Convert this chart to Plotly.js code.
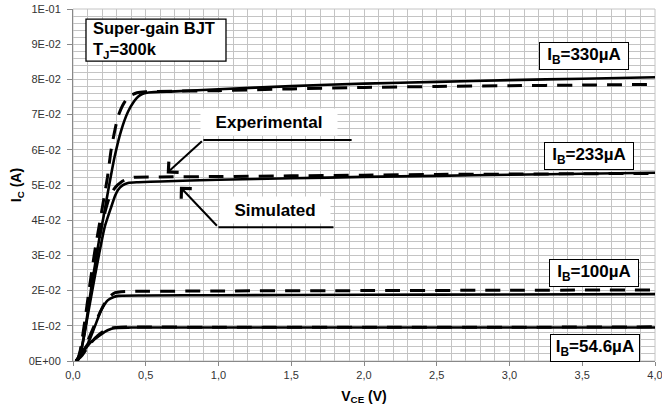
<!DOCTYPE html>
<html><head><meta charset="utf-8">
<script src="https://cdn.plot.ly/plotly-3.0.1.min.js"></script>
<style>html,body{margin:0;padding:0;background:#fff}#chart{width:662px;height:416px}</style>
</head><body><div id="chart"></div>
<script>
// ---- Data ----
const vce330Sim = [0.03,0.05,0.08,0.105,0.126,0.15,0.183,0.21,0.24,0.286,0.332,0.378,0.42,0.447,0.48,0.52,0.7,1.0,1.5,2.0,2.5,3.0,3.5,4.0];
const ic330Sim  = [0,0.002,0.008,0.015,0.021,0.027,0.0353,0.041,0.048,0.058,0.0656,0.0708,0.0738,0.0751,0.0759,0.0763,0.0766,0.0772,0.0781,0.0788,0.0793,0.0798,0.0802,0.0806];
const vce330Exp = [0.03,0.05,0.08,0.11,0.149,0.195,0.236,0.264,0.309,0.34,0.367,0.4,0.44,0.5,1.0,1.5,2.0,2.5,3.0,3.5,4.0];
const ic330Exp  = [0,0.003,0.011,0.02,0.031,0.042,0.052,0.0605,0.0694,0.0725,0.0743,0.0755,0.0762,0.0765,0.0768,0.0773,0.0777,0.078,0.0782,0.0784,0.0786];

const vce233Sim = [0.03,0.05,0.08,0.11,0.15,0.18,0.218,0.263,0.29,0.309,0.34,0.378,0.45,0.6,1.0,1.5,2.0,2.5,3.0,3.5,4.0];
const ic233Sim  = [0,0.002,0.008,0.015,0.024,0.0305,0.0381,0.0438,0.047,0.0486,0.0499,0.0506,0.0508,0.051,0.0515,0.0519,0.0523,0.0526,0.0529,0.0532,0.0535];
const vce233Exp = [0.03,0.05,0.08,0.11,0.15,0.2,0.25,0.29,0.33,0.37,0.42,0.6,1.0,1.5,2.0,2.5,3.0,3.5,4.0];
const ic233Exp  = [0,0.0025,0.009,0.017,0.027,0.039,0.0465,0.0493,0.0508,0.0517,0.0522,0.0523,0.0524,0.0526,0.0528,0.053,0.0531,0.0532,0.0533];

const vce100Sim = [0.02,0.034,0.07,0.103,0.149,0.195,0.24,0.28,0.31,0.5,1.0,2.0,3.0,4.0];
const ic100Sim  = [0,0.0009,0.003,0.005,0.0097,0.0145,0.0173,0.0182,0.0185,0.0186,0.0187,0.0188,0.0189,0.019];
const vce100Exp = [0.02,0.06,0.12,0.172,0.218,0.26,0.29,0.33,0.5,1.0,2.0,3.0,4.0];
const ic100Exp  = [0,0.002,0.0075,0.0126,0.0164,0.0186,0.0194,0.0197,0.0198,0.0199,0.02,0.0201,0.0202];

const vce55Sim = [0.02,0.057,0.09,0.126,0.172,0.218,0.26,0.29,0.4,1.0,2.0,3.0,4.0];
const ic55Sim  = [0,0.0017,0.0037,0.0055,0.0069,0.0083,0.0091,0.0094,0.0095,0.0095,0.0095,0.0095,0.0095];
const vce55Exp = [0.02,0.06,0.12,0.17,0.22,0.27,0.33,1.0,2.0,3.0,4.0];
const ic55Exp  = [0,0.0015,0.005,0.0072,0.0087,0.0094,0.0096,0.0096,0.0096,0.0096,0.0097];

const xTickVals = [0,0.5,1,1.5,2,2.5,3,3.5,4];
const yTickVals = [0,0.01,0.02,0.03,0.04,0.05,0.06,0.07,0.08,0.09,0.1];
const yTickText = ["0E+00","1E-02","2E-02","3E-02","4E-02","5E-02","6E-02","7E-02","8E-02","9E-02","1E-01"];
const curveLabels = ["I<sub>B</sub>=330µA","I<sub>B</sub>=233µA","I<sub>B</sub>=100µA","I<sub>B</sub>=54.6µA"];
const infoText = "<b>Super-gain BJT<br>T<sub>J</sub>=300k</b>";

// ---- Styles ----
const FONT = "Liberation Sans, Arial, Helvetica, sans-serif";
const GRID = "#c4c4c4";
const solid = {color:"#000", width:2.6, shape:"spline", smoothing:0.6};
const dashed = {color:"#000", width:3, dash:"15px,10px", shape:"spline", smoothing:0.6};

const series = [
  [vce330Sim, ic330Sim, solid], [vce330Exp, ic330Exp, dashed],
  [vce233Sim, ic233Sim, solid], [vce233Exp, ic233Exp, dashed],
  [vce100Sim, ic100Sim, solid], [vce100Exp, ic100Exp, dashed],
  [vce55Sim, ic55Sim, solid], [vce55Exp, ic55Exp, dashed]
];
const traces = series.map(s => ({x:s[0], y:s[1], type:"scatter", mode:"lines", line:s[2], hoverinfo:"skip"}));

const labelPos = [[3.512,0.0866],[3.546,0.0582],[3.581,0.0251],[3.589,0.0036]];
const annotations = curveLabels.map((t,i) => ({
  x:labelPos[i][0], y:labelPos[i][1], xref:"x", yref:"y", text:"<b>"+t+"</b>", showarrow:false,
  font:{family:FONT, size:17, color:"#000"}, bgcolor:"#fff", bordercolor:"#000", borderwidth:1,
  borderpad:2, width:84, height:22, xanchor:"center", yanchor:"middle"
}));
annotations.push(
  {x:0.1216, y:0.09115, xref:"x", yref:"y", text:infoText, showarrow:false, xanchor:"left", yanchor:"middle", align:"left",
   font:{family:FONT, size:16.5, color:"#000"}},
  {x:1.347, y:0.0680, xref:"x", yref:"y", text:"<b>Experimental</b>", showarrow:false, bgcolor:"#fff", width:134, height:24,
   font:{family:FONT, size:17, color:"#000"}},
  {x:1.388, y:0.0429, xref:"x", yref:"y", text:"<b>Simulated</b>", showarrow:false, bgcolor:"#fff", width:108, height:24,
   font:{family:FONT, size:17, color:"#000"}},
  {x:0.644, y:0.0533, xref:"x", yref:"y", ax:0.896, ay:0.0628, axref:"x", ayref:"y", text:"", showarrow:true,
   arrowhead:4, arrowsize:1.4, arrowwidth:2, arrowcolor:"#000", standoff:0, startstandoff:0},
  {x:0.735, y:0.0495, xref:"x", yref:"y", ax:0.999, ay:0.038, axref:"x", ayref:"y", text:"", showarrow:true,
   arrowhead:4, arrowsize:1.4, arrowwidth:2, arrowcolor:"#000", standoff:0, startstandoff:0}
);

const shapes = [
  {type:"rect", xref:"paper", yref:"paper", x0:0, x1:1, y0:0, y1:1, line:{color:GRID, width:1}, layer:"below"},
  {type:"rect", xref:"x", yref:"y", x0:0.0893, x1:1.0515, y0:0.0852, y1:0.0971, line:{color:"#000", width:1.3}, fillcolor:"#fff", layer:"above"},
  {type:"line", xref:"x", yref:"y", x0:0.896, x1:1.915, y0:0.0628, y1:0.0628, line:{color:"#000", width:2}},
  {type:"line", xref:"x", yref:"y", x0:0.999, x1:1.79, y0:0.038, y1:0.038, line:{color:"#000", width:2}}
];

const layout = {
  width:662, height:416,
  margin:{l:73, r:7, t:9, b:55, pad:0},
  paper_bgcolor:"#fff", plot_bgcolor:"#fff",
  showlegend:false,
  separators:", ",
  font:{family:FONT, color:"#333"},
  xaxis:{
    range:[0,4], tickmode:"array", tickvals:xTickVals, tickformat:".1f",
    showgrid:true, gridcolor:GRID, gridwidth:1,
    minor:{dtick:0.1, tick0:0, showgrid:true, gridcolor:GRID, gridwidth:1, ticks:""},
    showline:true, linecolor:"#888", linewidth:1, ticks:"outside", ticklen:4, tickcolor:"#888",
    ticklabeloverflow:"allow",
    zeroline:false, tickfont:{family:FONT, size:11, color:"#333"},
    title:{text:"<b>V<sub>CE</sub> (V)</b>", font:{family:FONT, size:14, color:"#000"}, standoff:10}
  },
  yaxis:{
    range:[0,0.1], tickvals:yTickVals, ticktext:yTickText,
    showgrid:true, gridcolor:GRID, gridwidth:1,
    minor:{dtick:0.002, tick0:0, showgrid:true, gridcolor:GRID, gridwidth:1, ticks:""},
    showline:true, linecolor:"#888", linewidth:1, ticks:"outside", ticklen:5, tickcolor:"#888",
    ticklabelstandoff:4,
    zeroline:false, tickfont:{family:FONT, size:11, color:"#333"},
    title:{text:"<b>I<sub>C</sub> (A)</b>", font:{family:FONT, size:14, color:"#000"}, standoff:3}
  },
  annotations:annotations,
  shapes:shapes
};

Plotly.newPlot("chart", traces, layout, {staticPlot:true, displayModeBar:false});
</script></body></html>
